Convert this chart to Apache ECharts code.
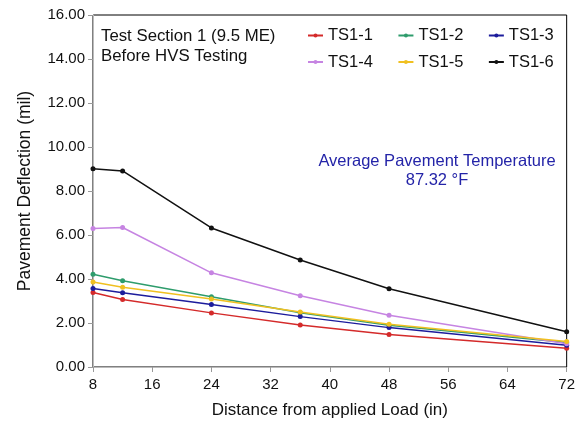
<!DOCTYPE html>
<html>
<head>
<meta charset="utf-8">
<script src="https://cdn.jsdelivr.net/npm/echarts@6/dist/echarts.min.js"></script>
<style>
  html, body { margin: 0; padding: 0; background: #fff; }
  #chart { width: 578px; height: 425px; }
</style>
</head>
<body>
<div id="chart"></div>
<script>
// Distance from applied load (in) at each measurement point
const distances = [8, 12, 24, 36, 48, 72];

// Deflection (mil) per test point
const ts1_1 = [3.39, 3.07, 2.46, 1.91, 1.48, 0.85];
const ts1_2 = [4.22, 3.92, 3.19, 2.47, 1.90, 1.11];
const ts1_3 = [3.57, 3.38, 2.84, 2.29, 1.79, 0.99];
const ts1_4 = [6.29, 6.34, 4.28, 3.24, 2.35, 1.06];
const ts1_5 = [3.86, 3.63, 3.09, 2.50, 1.94, 1.16];
const ts1_6 = [9.01, 8.91, 6.32, 4.86, 3.56, 1.60];

const seriesNames = ['TS1-1', 'TS1-2', 'TS1-3', 'TS1-4', 'TS1-5', 'TS1-6'];
const seriesValues = [ts1_1, ts1_2, ts1_3, ts1_4, ts1_5, ts1_6];
const seriesColors = ['#d42a2a', '#2e9c6c', '#1c1c9c', '#c684e2', '#f0c020', '#111111'];

const FONT = '"Liberation Sans", Arial, sans-serif';

const chart = echarts.init(document.getElementById('chart'), null, { renderer: 'canvas' });

const series = seriesNames.map((name, i) => ({
  name: name,
  type: 'line',
  data: distances.map((d, j) => [d, seriesValues[i][j]]),
  symbol: 'circle',
  symbolSize: 5,
  showSymbol: true,
  lineStyle: { width: 1.5, color: seriesColors[i] },
  itemStyle: { color: seriesColors[i] },
  emphasis: { disabled: true },
  animation: false,
  z: 2 + i
}));

const legendBase = {
  orient: 'horizontal',
  padding: 0,
  itemWidth: 15,
  itemHeight: 5,
  itemGap: 24.5,
  textStyle: { fontFamily: FONT, fontSize: 16.5, color: '#111' },
  selectedMode: false
};

chart.setOption({
  animation: false,
  backgroundColor: '#fff',
  grid: {
    left: 93, right: 8, top: 15, bottom: 58,
    show: true, borderColor: '#000', borderWidth: 1,
    containLabel: false
  },
  legend: [
    Object.assign({}, legendBase, { left: 307, top: 27, data: seriesNames.slice(0, 3) }),
    Object.assign({}, legendBase, { left: 307, top: 53.5, data: seriesNames.slice(3) })
  ],
  xAxis: {
    type: 'value',
    min: 8, max: 72, interval: 8,
    name: 'Distance from applied Load (in)',
    nameLocation: 'middle',
    nameGap: 35,
    nameTextStyle: { fontFamily: FONT, fontSize: 17, color: '#111' },
    axisLine: { show: true, lineStyle: { color: '#bbbbbb', width: 1 } },
    axisTick: { show: true, length: 5, inside: false, lineStyle: { color: '#999' } },
    axisLabel: { fontFamily: FONT, fontSize: 15, color: '#111', margin: 10 },
    splitLine: { show: false }
  },
  yAxis: {
    type: 'value',
    min: 0, max: 16, interval: 2,
    name: 'Pavement Deflection (mil)',
    nameLocation: 'middle',
    nameGap: 59,
    nameRotate: 90,
    nameTextStyle: { fontFamily: FONT, fontSize: 17.5, color: '#111' },
    axisLine: { show: true, lineStyle: { color: '#bbbbbb', width: 1 } },
    axisTick: { show: true, length: 5, inside: false, lineStyle: { color: '#999' } },
    axisLabel: {
      fontFamily: FONT, fontSize: 15, color: '#111', margin: 8,
      formatter: v => v.toFixed(2)
    },
    splitLine: { show: false }
  },
  graphic: [
    {
      type: 'text', left: 101, top: 26,
      style: {
        text: 'Test Section 1 (9.5 ME)\nBefore HVS Testing',
        font: '16.8px ' + FONT, fill: '#111', lineHeight: 20
      }
    },
    {
      type: 'text',
      x: 437, y: 151.5,
      style: {
        text: 'Average Pavement Temperature\n87.32 \u00B0F',
        font: '16.5px ' + FONT, fill: '#2424a8',
        align: 'center', verticalAlign: 'top', lineHeight: 19
      }
    }
  ],
  series: series
});
</script>
</body>
</html>
